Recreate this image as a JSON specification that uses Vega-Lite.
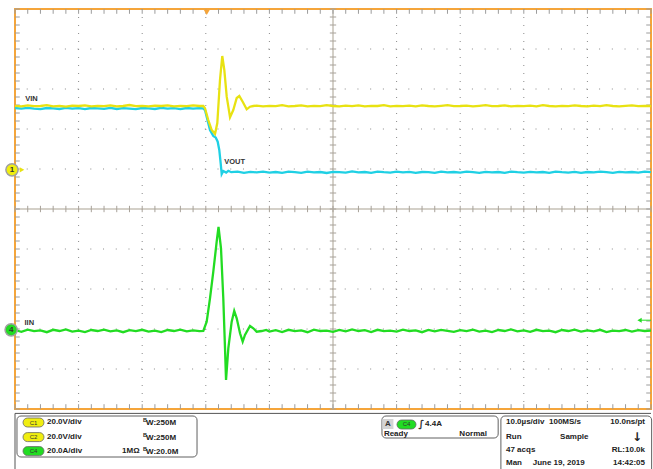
{
  "$schema": "https://vega.github.io/schema/vega-lite/v6.json",
  "width": 636,
  "height": 400,
  "autosize": "none",
  "padding": {"left": 15, "top": 9, "right": 2, "bottom": 60},
  "background": "white",
  "config": {"view": {"stroke": "#f5a53a", "strokeWidth": 2}},
  "resolve": {"scale": {"y": "independent", "color": "independent"}},
  "datasets": {
    "vin": [
      {"t":-30,"v":31.6},{"t":-29,"v":31.3},{"t":-28,"v":31.8},{"t":-27,"v":31.4},{"t":-26,"v":31.5},{"t":-25,"v":31.9},{"t":-24,"v":31.3},{"t":-23,"v":31.6},{"t":-22,"v":31.2},{"t":-21,"v":31.7},
      {"t":-20,"v":31.5},{"t":-19,"v":31.8},{"t":-18,"v":31.3},{"t":-17,"v":31.6},{"t":-16,"v":31.4},{"t":-15,"v":31.8},{"t":-14,"v":31.3},{"t":-13,"v":31.5},{"t":-12,"v":32.0},{"t":-11,"v":31.4},
      {"t":-10,"v":31.6},{"t":-9,"v":31.3},{"t":-8,"v":31.7},{"t":-7,"v":31.5},{"t":-6,"v":31.8},{"t":-5,"v":31.3},{"t":-4,"v":31.6},{"t":-3,"v":31.4},{"t":-2,"v":31.8},{"t":-1,"v":31.5},
      {"t":-0.39,"v":31.5},{"t":-0.13,"v":30.35},{"t":0.39,"v":24.5},{"t":0.93,"v":19.5},{"t":1.45,"v":17.5},{"t":1.81,"v":23},{"t":2.23,"v":44.5},{"t":2.59,"v":56.5},{"t":2.91,"v":49.5},{"t":3.29,"v":36.15},
      {"t":3.81,"v":25.85},{"t":4.32,"v":29.5},{"t":4.86,"v":35.5},{"t":5.27,"v":36.5},{"t":5.8,"v":33.65},{"t":6.43,"v":29.85},{"t":6.95,"v":31.15},{"t":7.47,"v":31.5},
      {"t":8,"v":31.7},{"t":9,"v":31.3},{"t":10,"v":31.6},{"t":11,"v":31.4},{"t":12,"v":31.9},{"t":13,"v":31.3},{"t":14,"v":31.5},{"t":15,"v":31.8},{"t":16,"v":31.3},{"t":17,"v":31.6},
      {"t":18,"v":31.4},{"t":19,"v":31.9},{"t":20,"v":31.5},{"t":21,"v":31.3},{"t":22,"v":31.7},{"t":23,"v":31.4},{"t":24,"v":31.8},{"t":25,"v":31.3},{"t":26,"v":31.6},{"t":27,"v":31.5},
      {"t":28,"v":31.9},{"t":29,"v":31.3},{"t":30,"v":31.6},{"t":31,"v":31.4},{"t":32,"v":31.7},{"t":33,"v":31.3},{"t":34,"v":31.8},{"t":35,"v":31.5},{"t":36,"v":31.3},{"t":37,"v":31.6},
      {"t":38,"v":31.9},{"t":39,"v":31.4},{"t":40,"v":31.5},{"t":41,"v":31.7},{"t":42,"v":31.3},{"t":43,"v":31.6},{"t":44,"v":31.9},{"t":45,"v":31.4},{"t":46,"v":31.5},{"t":47,"v":31.8},
      {"t":48,"v":31.3},{"t":49,"v":31.6},{"t":50,"v":31.4},{"t":51,"v":31.7},{"t":52,"v":31.3},{"t":53,"v":31.9},{"t":54,"v":31.5},{"t":55,"v":31.3},{"t":56,"v":31.6},{"t":57,"v":31.4},
      {"t":58,"v":31.8},{"t":59,"v":31.5},{"t":60,"v":31.3},{"t":61,"v":31.7},{"t":62,"v":31.4},{"t":63,"v":31.9},{"t":64,"v":31.5},{"t":65,"v":31.3},{"t":66,"v":31.6},{"t":67,"v":31.8},
      {"t":68,"v":31.4},{"t":69,"v":31.6},{"t":70,"v":31.5}
    ],
    "vout": [
      {"t":-30,"v":30.5},{"t":-29,"v":30.2},{"t":-28,"v":30.6},{"t":-27,"v":30.2},{"t":-26,"v":29.9},{"t":-25,"v":30.5},{"t":-24,"v":30.3},{"t":-23,"v":30.0},{"t":-22,"v":30.6},{"t":-21,"v":30.2},
      {"t":-20,"v":30.4},{"t":-19,"v":29.9},{"t":-18,"v":30.5},{"t":-17,"v":30.3},{"t":-16,"v":30.1},{"t":-15,"v":30.6},{"t":-14,"v":30.0},{"t":-13,"v":30.4},{"t":-12,"v":30.2},{"t":-11,"v":29.9},
      {"t":-10,"v":30.5},{"t":-9,"v":30.3},{"t":-8,"v":30.0},{"t":-7,"v":30.6},{"t":-6,"v":30.2},{"t":-5,"v":30.4},{"t":-4,"v":29.9},{"t":-3,"v":30.5},{"t":-2,"v":30.2},{"t":-1,"v":30.4},
      {"t":-0.44,"v":30.3},{"t":-0.13,"v":29.5},{"t":0.39,"v":22.85},{"t":0.66,"v":19.5},{"t":1.18,"v":16.5},{"t":1.56,"v":15.75},{"t":1.87,"v":13.65},{"t":2.12,"v":9.5},{"t":2.34,"v":2.85},{"t":2.5,"v":-2.5},
      {"t":2.75,"v":-1.0},{"t":3.2,"v":-1.8},{"t":3.54,"v":-0.9},{"t":4,"v":-1.6},
      {"t":5,"v":-1.3},{"t":6,"v":-1.9},{"t":7,"v":-1.4},{"t":8,"v":-1.7},{"t":9,"v":-1.3},{"t":10,"v":-1.8},{"t":11,"v":-1.5},{"t":12,"v":-1.9},{"t":13,"v":-1.3},{"t":14,"v":-1.6},
      {"t":15,"v":-1.9},{"t":16,"v":-1.3},{"t":17,"v":-1.7},{"t":18,"v":-1.5},{"t":19,"v":-2.0},{"t":20,"v":-1.4},{"t":21,"v":-1.6},{"t":22,"v":-1.8},{"t":23,"v":-1.2},{"t":24,"v":-1.7},
      {"t":25,"v":-1.5},{"t":26,"v":-1.9},{"t":27,"v":-1.3},{"t":28,"v":-1.6},{"t":29,"v":-1.8},{"t":30,"v":-1.3},{"t":31,"v":-1.7},{"t":32,"v":-1.4},{"t":33,"v":-1.9},{"t":34,"v":-1.5},
      {"t":35,"v":-1.6},{"t":36,"v":-1.9},{"t":37,"v":-1.3},{"t":38,"v":-1.7},{"t":39,"v":-1.5},{"t":40,"v":-1.8},{"t":41,"v":-1.3},{"t":42,"v":-1.6},{"t":43,"v":-1.9},{"t":44,"v":-1.4},
      {"t":45,"v":-1.7},{"t":46,"v":-1.5},{"t":47,"v":-1.9},{"t":48,"v":-1.3},{"t":49,"v":-1.6},{"t":50,"v":-1.8},{"t":51,"v":-1.4},{"t":52,"v":-1.7},{"t":53,"v":-1.5},{"t":54,"v":-1.9},
      {"t":55,"v":-1.3},{"t":56,"v":-1.6},{"t":57,"v":-1.8},{"t":58,"v":-1.4},{"t":59,"v":-1.9},{"t":60,"v":-1.5},{"t":61,"v":-1.7},{"t":62,"v":-1.3},{"t":63,"v":-1.6},{"t":64,"v":-1.9},
      {"t":65,"v":-1.4},{"t":66,"v":-1.7},{"t":67,"v":-1.5},{"t":68,"v":-1.8},{"t":69,"v":-1.3},{"t":70,"v":-1.6}
    ],
    "iin": [
      {"t":-30,"v":-0.5},{"t":-29,"v":-1.4},{"t":-28,"v":-0.3},{"t":-27,"v":-1.1},{"t":-26,"v":-0.7},{"t":-25,"v":-1.6},{"t":-24,"v":-0.4},{"t":-23,"v":-1.0},{"t":-22,"v":-0.2},{"t":-21,"v":-1.3},
      {"t":-20,"v":-0.8},{"t":-19,"v":-1.5},{"t":-18,"v":-0.5},{"t":-17,"v":-1.0},{"t":-16,"v":-0.3},{"t":-15,"v":-1.2},{"t":-14,"v":-0.7},{"t":-13,"v":-1.6},{"t":-12,"v":-0.6},{"t":-11,"v":-1.1},
      {"t":-10,"v":-0.4},{"t":-9,"v":-1.3},{"t":-8,"v":-0.8},{"t":-7,"v":-1.5},{"t":-6,"v":-0.5},{"t":-5,"v":-1.0},{"t":-4,"v":-0.3},{"t":-3,"v":-1.2},{"t":-2,"v":-0.7},{"t":-1,"v":-1.1},
      {"t":-0.39,"v":-1.0},{"t":0.14,"v":3.65},{"t":0.66,"v":15.35},{"t":1.18,"v":28.65},{"t":1.71,"v":43.65},{"t":2.0,"v":51},{"t":2.39,"v":40.35},{"t":2.75,"v":15.35},{"t":3.02,"v":-9.65},{"t":3.18,"v":-25.5},
      {"t":3.54,"v":-9.65},{"t":4.07,"v":3.65},{"t":4.47,"v":9},{"t":4.86,"v":5.35},{"t":5.38,"v":-2.15},{"t":5.8,"v":-6.35},{"t":6.16,"v":-3},{"t":6.95,"v":1.5},{"t":7.47,"v":0.35},{"t":8.0,"v":-1.35},
      {"t":8.79,"v":-1.0},{"t":9.5,"v":-0.5},{"t":10,"v":-1.3},{"t":11,"v":-0.6},{"t":12,"v":-1.5},{"t":13,"v":-0.4},{"t":14,"v":-1.1},{"t":15,"v":-0.7},{"t":16,"v":-1.6},{"t":17,"v":-0.3},
      {"t":18,"v":-1.0},{"t":19,"v":-0.8},{"t":20,"v":-1.4},{"t":21,"v":-0.5},{"t":22,"v":-1.2},{"t":23,"v":-0.2},{"t":24,"v":-1.0},{"t":25,"v":-0.6},{"t":26,"v":-1.5},{"t":27,"v":-0.4},
      {"t":28,"v":-1.1},{"t":29,"v":-0.8},{"t":30,"v":-1.3},{"t":31,"v":-0.3},{"t":32,"v":-1.0},{"t":33,"v":-0.7},{"t":34,"v":-1.6},{"t":35,"v":-0.5},{"t":36,"v":-1.2},{"t":37,"v":-0.4},
      {"t":38,"v":-0.9},{"t":39,"v":-1.4},{"t":40,"v":-0.6},{"t":41,"v":-1.1},{"t":42,"v":-0.3},{"t":43,"v":-1.3},{"t":44,"v":-0.8},{"t":45,"v":-1.5},{"t":46,"v":-0.5},{"t":47,"v":-1.0},
      {"t":48,"v":-0.2},{"t":49,"v":-1.2},{"t":50,"v":-0.7},{"t":51,"v":-1.4},{"t":52,"v":-0.4},{"t":53,"v":-1.1},{"t":54,"v":-0.8},{"t":55,"v":-1.6},{"t":56,"v":-0.5},{"t":57,"v":-1.0},
      {"t":58,"v":-0.3},{"t":59,"v":-1.3},{"t":60,"v":-0.7},{"t":61,"v":-1.2},{"t":62,"v":-0.4},{"t":63,"v":-1.5},{"t":64,"v":-0.8},{"t":65,"v":-1.1},{"t":66,"v":-0.5},{"t":67,"v":-1.3},
      {"t":68,"v":-0.6},{"t":69,"v":-1.0},{"t":70,"v":-0.8}
    ],
    "mx": [
      {"t":-30},{"t":-28},{"t":-26},{"t":-24},{"t":-22},{"t":-20},{"t":-18},{"t":-16},{"t":-14},{"t":-12},
      {"t":-10},{"t":-8},{"t":-6},{"t":-4},{"t":-2},{"t":0},{"t":2},{"t":4},{"t":6},{"t":8},
      {"t":10},{"t":12},{"t":14},{"t":16},{"t":18},{"t":20},{"t":22},{"t":24},{"t":26},{"t":28},
      {"t":30},{"t":32},{"t":34},{"t":36},{"t":38},{"t":40},{"t":42},{"t":44},{"t":46},{"t":48},
      {"t":50},{"t":52},{"t":54},{"t":56},{"t":58},{"t":60},{"t":62},{"t":64},{"t":66},{"t":68},{"t":70}
    ],
    "my": [
      {"d":-5},{"d":-4.8},{"d":-4.6},{"d":-4.4},{"d":-4.2},{"d":-4},{"d":-3.8},{"d":-3.6},{"d":-3.4},{"d":-3.2},
      {"d":-3},{"d":-2.8},{"d":-2.6},{"d":-2.4},{"d":-2.2},{"d":-2},{"d":-1.8},{"d":-1.6},{"d":-1.4},{"d":-1.2},
      {"d":-1},{"d":-0.8},{"d":-0.6},{"d":-0.4},{"d":-0.2},{"d":0},{"d":0.2},{"d":0.4},{"d":0.6},{"d":0.8},
      {"d":1},{"d":1.2},{"d":1.4},{"d":1.6},{"d":1.8},{"d":2},{"d":2.2},{"d":2.4},{"d":2.6},{"d":2.8},
      {"d":3},{"d":3.2},{"d":3.4},{"d":3.6},{"d":3.8},{"d":4},{"d":4.2},{"d":4.4},{"d":4.6},{"d":4.8},{"d":5}
    ],
    "gx": [{"t":-20},{"t":-10},{"t":0},{"t":10},{"t":30},{"t":40},{"t":50},{"t":60}],
    "gy": [{"d":-4},{"d":-3},{"d":-2},{"d":-1},{"d":1},{"d":2},{"d":3},{"d":4}],
    "labels": [
      {"s":"VIN","t":-28.4,"d":2.75},
      {"s":"VOUT","t":2.9,"d":1.18},
      {"s":"IIN","t":-28.5,"d":-2.85}
    ],
    "markers": [
      {"n":"1","ch":"C1","t":-30.47,"d":0.98},
      {"n":"4","ch":"C4","t":-30.6,"d":-3.02}
    ],
    "boxes": [
      {"t":-29.69,"t2":-1.38,"d":-5.175,"d2":-6.2},
      {"t":27.7,"t2":45.97,"d":-5.175,"d2":-5.725},
      {"t":46.4,"t2":70.1,"d":-5.175,"d2":-6.8}
    ],
    "badges": [
      {"ch":"C1","t":-28.74,"t2":-25.44,"d":-5.225,"d2":-5.45,"tc":-27.09,"dc":-5.34},
      {"ch":"C2","t":-28.74,"t2":-25.44,"d":-5.59,"d2":-5.815,"tc":-27.09,"dc":-5.7},
      {"ch":"C4","t":-28.74,"t2":-25.44,"d":-5.94,"d2":-6.165,"tc":-27.09,"dc":-6.05},
      {"ch":"C4","t":30.06,"t2":33.05,"d":-5.275,"d2":-5.5,"tc":31.55,"dc":-5.385}
    ],
    "textLeft": [
      {"s":"20.0V/div","t":-24.97,"d":-5.33},
      {"s":"20.0V/div","t":-24.97,"d":-5.7},
      {"s":"20.0A/div","t":-24.97,"d":-6.05},
      {"s":"W:250M","t":-9.4,"d":-5.36},
      {"s":"W:250M","t":-9.4,"d":-5.73},
      {"s":"1MΩ","t":-13.17,"d":-6.05},
      {"s":"W:20.0M","t":-9.4,"d":-6.08},
      {"s":"4.4A","t":34.47,"d":-5.38},
      {"s":"Ready","t":28.0,"d":-5.63},
      {"s":"10.0µs/div","t":47.2,"d":-5.33},
      {"s":"100MS/s","t":53.96,"d":-5.33},
      {"s":"Run","t":47.2,"d":-5.7},
      {"s":"Sample","t":55.7,"d":-5.7},
      {"s":"47 acqs","t":47.2,"d":-6.03},
      {"s":"Man","t":47.2,"d":-6.35},
      {"s":"June 19, 2019","t":51.4,"d":-6.35}
    ],
    "textRight": [
      {"s":"Normal","t":44.2,"d":-5.63},
      {"s":"10.0ns/pt","t":69.06,"d":-5.33},
      {"s":"RL:10.0k","t":69.06,"d":-6.03},
      {"s":"14:42:05","t":69.06,"d":-6.35}
    ],
    "bw": [
      {"s":"B","t":-9.87,"d":-5.28},
      {"s":"B","t":-9.87,"d":-5.65},
      {"s":"B","t":-9.87,"d":-6.0}
    ]
  },
  "layer": [
    {
      "data": {"name": "gy"},
      "mark": {"type": "rule", "color": "#8a8a8a", "strokeWidth": 1, "strokeDash": [1, 11.72]},
      "encoding": {"y": {"field": "d", "type": "quantitative", "scale": {"domain": [-5, 5], "nice": false}, "axis": null}}
    },
    {
      "data": {"name": "gx"},
      "mark": {"type": "rule", "color": "#8a8a8a", "strokeWidth": 1, "strokeDash": [1, 7]},
      "encoding": {"x": {"field": "t", "type": "quantitative", "scale": {"domain": [-30, 70], "nice": false}, "axis": null}}
    },
    {
      "data": {"values": [{}]},
      "mark": {"type": "rule", "color": "#c6c0b6", "strokeWidth": 1.5},
      "encoding": {"y": {"datum": 0, "type": "quantitative", "scale": {"domain": [-5, 5], "nice": false}, "axis": null}}
    },
    {
      "data": {"values": [{}]},
      "mark": {"type": "rule", "color": "#c6c0b6", "strokeWidth": 1.5},
      "encoding": {"x": {"datum": 20, "type": "quantitative", "scale": {"domain": [-30, 70], "nice": false}, "axis": null}}
    },
    {
      "data": {"name": "mx"},
      "mark": {"type": "rule", "color": "#9c9c9c", "strokeWidth": 1},
      "encoding": {
        "x": {"field": "t", "type": "quantitative", "scale": {"domain": [-30, 70], "nice": false}, "axis": null},
        "y": {"datum": 5, "type": "quantitative", "scale": {"domain": [-5, 5], "nice": false}, "axis": null},
        "y2": {"datum": 4.88}
      }
    },
    {
      "data": {"name": "mx"},
      "mark": {"type": "rule", "color": "#9c9c9c", "strokeWidth": 1},
      "encoding": {
        "x": {"field": "t", "type": "quantitative", "scale": {"domain": [-30, 70], "nice": false}, "axis": null},
        "y": {"datum": -5, "type": "quantitative", "scale": {"domain": [-5, 5], "nice": false}, "axis": null},
        "y2": {"datum": -4.88}
      }
    },
    {
      "data": {"name": "mx"},
      "mark": {"type": "rule", "color": "#a8a29a", "strokeWidth": 1},
      "encoding": {
        "x": {"field": "t", "type": "quantitative", "scale": {"domain": [-30, 70], "nice": false}, "axis": null},
        "y": {"datum": 0.08, "type": "quantitative", "scale": {"domain": [-5, 5], "nice": false}, "axis": null},
        "y2": {"datum": -0.08}
      }
    },
    {
      "data": {"name": "my"},
      "mark": {"type": "rule", "color": "#9c9c9c", "strokeWidth": 1},
      "encoding": {
        "y": {"field": "d", "type": "quantitative", "scale": {"domain": [-5, 5], "nice": false}, "axis": null},
        "x": {"datum": -30, "type": "quantitative", "scale": {"domain": [-30, 70], "nice": false}, "axis": null},
        "x2": {"datum": -29.25}
      }
    },
    {
      "data": {"name": "my"},
      "mark": {"type": "rule", "color": "#9c9c9c", "strokeWidth": 1},
      "encoding": {
        "y": {"field": "d", "type": "quantitative", "scale": {"domain": [-5, 5], "nice": false}, "axis": null},
        "x": {"datum": 70, "type": "quantitative", "scale": {"domain": [-30, 70], "nice": false}, "axis": null},
        "x2": {"datum": 69.25}
      }
    },
    {
      "data": {"name": "my"},
      "mark": {"type": "rule", "color": "#a8a29a", "strokeWidth": 1},
      "encoding": {
        "y": {"field": "d", "type": "quantitative", "scale": {"domain": [-5, 5], "nice": false}, "axis": null},
        "x": {"datum": 19.5, "type": "quantitative", "scale": {"domain": [-30, 70], "nice": false}, "axis": null},
        "x2": {"datum": 20.5}
      }
    },
    {
      "data": {"name": "vout"},
      "mark": {"type": "line", "color": "#1fd0e4", "strokeWidth": 2.3, "interpolate": "linear"},
      "encoding": {
        "x": {"field": "t", "type": "quantitative", "scale": {"domain": [-30, 70], "nice": false}, "axis": null},
        "y": {"field": "v", "type": "quantitative", "scale": {"domain": [-120, 80], "nice": false}, "axis": null}
      }
    },
    {
      "data": {"name": "vin"},
      "mark": {"type": "line", "color": "#e8e212", "strokeWidth": 2.3, "interpolate": "linear"},
      "encoding": {
        "x": {"field": "t", "type": "quantitative", "scale": {"domain": [-30, 70], "nice": false}, "axis": null},
        "y": {"field": "v", "type": "quantitative", "scale": {"domain": [-120, 80], "nice": false}, "axis": null}
      }
    },
    {
      "data": {"name": "iin"},
      "mark": {"type": "line", "color": "#22dc22", "strokeWidth": 2.3, "interpolate": "linear"},
      "encoding": {
        "x": {"field": "t", "type": "quantitative", "scale": {"domain": [-30, 70], "nice": false}, "axis": null},
        "y": {"field": "v", "type": "quantitative", "scale": {"domain": [-40, 160], "nice": false}, "axis": null}
      }
    },
    {
      "data": {"name": "labels"},
      "mark": {"type": "text", "align": "left", "baseline": "middle", "font": "Liberation Sans", "fontWeight": "bold", "fontSize": 7.5, "color": "#333333"},
      "encoding": {
        "x": {"field": "t", "type": "quantitative", "scale": {"domain": [-30, 70], "nice": false}, "axis": null},
        "y": {"field": "d", "type": "quantitative", "scale": {"domain": [-5, 5], "nice": false}, "axis": null},
        "text": {"field": "s"}
      }
    },
    {
      "data": {"values": [{}]},
      "mark": {"type": "point", "shape": "triangle-down", "filled": true, "size": 45, "color": "#f5a53a", "opacity": 1},
      "encoding": {
        "x": {"datum": 0.15, "type": "quantitative", "scale": {"domain": [-30, 70], "nice": false}, "axis": null},
        "y": {"datum": 4.92, "type": "quantitative", "scale": {"domain": [-5, 5], "nice": false}, "axis": null}
      }
    },
    {
      "data": {"values": [{}]},
      "mark": {"type": "point", "shape": "triangle-right", "filled": true, "size": 28, "color": "#e8e212", "opacity": 1},
      "encoding": {
        "x": {"datum": -28.9, "type": "quantitative", "scale": {"domain": [-30, 70], "nice": false}, "axis": null},
        "y": {"datum": 0.98, "type": "quantitative", "scale": {"domain": [-5, 5], "nice": false}, "axis": null}
      }
    },
    {
      "data": {"values": [{}]},
      "mark": {"type": "rule", "color": "#22dc22", "strokeWidth": 1},
      "encoding": {
        "x": {"datum": 68.4, "type": "quantitative", "scale": {"domain": [-30, 70], "nice": false}, "axis": null},
        "x2": {"datum": 70},
        "y": {"datum": -2.78, "type": "quantitative", "scale": {"domain": [-5, 5], "nice": false}, "axis": null}
      }
    },
    {
      "data": {"values": [{}]},
      "mark": {"type": "point", "shape": "triangle-left", "filled": true, "size": 25, "color": "#22dc22", "opacity": 1},
      "encoding": {
        "x": {"datum": 68.2, "type": "quantitative", "scale": {"domain": [-30, 70], "nice": false}, "axis": null},
        "y": {"datum": -2.78, "type": "quantitative", "scale": {"domain": [-5, 5], "nice": false}, "axis": null}
      }
    },
    {
      "data": {"name": "markers"},
      "mark": {"type": "point", "shape": "circle", "filled": true, "size": 150, "stroke": "#a0a0a0", "strokeWidth": 1.5, "opacity": 1},
      "encoding": {
        "x": {"field": "t", "type": "quantitative", "scale": {"domain": [-30, 70], "nice": false}, "axis": null},
        "y": {"field": "d", "type": "quantitative", "scale": {"domain": [-5, 5], "nice": false}, "axis": null},
        "fill": {"field": "ch", "type": "nominal", "scale": {"domain": ["C1", "C4"], "range": ["#f0ee10", "#22dc22"]}, "legend": null}
      }
    },
    {
      "data": {"name": "markers"},
      "mark": {"type": "text", "align": "center", "baseline": "middle", "font": "Liberation Sans", "fontWeight": "bold", "fontSize": 8, "color": "#333333"},
      "encoding": {
        "x": {"field": "t", "type": "quantitative", "scale": {"domain": [-30, 70], "nice": false}, "axis": null},
        "y": {"field": "d", "type": "quantitative", "scale": {"domain": [-5, 5], "nice": false}, "axis": null},
        "text": {"field": "n"}
      }
    },
    {
      "data": {"values": [{}]},
      "mark": {"type": "rule", "color": "#555555", "strokeWidth": 1},
      "encoding": {
        "y": {"datum": -5.11, "type": "quantitative", "scale": {"domain": [-5, 5], "nice": false}, "axis": null}
      }
    },
    {
      "data": {"values": [{}]},
      "mark": {"type": "rule", "color": "#555555", "strokeWidth": 1},
      "encoding": {
        "x": {"datum": -30, "type": "quantitative", "scale": {"domain": [-30, 70], "nice": false}, "axis": null},
        "y": {"datum": -5.11, "type": "quantitative", "scale": {"domain": [-5, 5], "nice": false}, "axis": null},
        "y2": {"datum": -6.8}
      }
    },
    {
      "data": {"name": "boxes"},
      "mark": {"type": "rect", "fill": "white", "stroke": "#606060", "strokeWidth": 1, "cornerRadius": 4},
      "encoding": {
        "x": {"field": "t", "type": "quantitative", "scale": {"domain": [-30, 70], "nice": false}, "axis": null},
        "x2": {"field": "t2"},
        "y": {"field": "d", "type": "quantitative", "scale": {"domain": [-5, 5], "nice": false}, "axis": null},
        "y2": {"field": "d2"}
      }
    },
    {
      "data": {"values": [{}]},
      "mark": {"type": "rect", "fill": "#d4d4d4"},
      "encoding": {
        "x": {"datum": 27.75, "type": "quantitative", "scale": {"domain": [-30, 70], "nice": false}, "axis": null},
        "x2": {"datum": 29.5},
        "y": {"datum": -5.25, "type": "quantitative", "scale": {"domain": [-5, 5], "nice": false}, "axis": null},
        "y2": {"datum": -5.5}
      }
    },
    {
      "data": {"name": "badges"},
      "mark": {"type": "rect", "cornerRadius": 4.5, "stroke": "#666666", "strokeWidth": 0.8},
      "encoding": {
        "x": {"field": "t", "type": "quantitative", "scale": {"domain": [-30, 70], "nice": false}, "axis": null},
        "x2": {"field": "t2"},
        "y": {"field": "d", "type": "quantitative", "scale": {"domain": [-5, 5], "nice": false}, "axis": null},
        "y2": {"field": "d2"},
        "fill": {"field": "ch", "type": "nominal", "scale": {"domain": ["C1", "C2", "C4"], "range": ["#d6d000", "#2ec6d0", "#22c822"]}, "legend": null}
      }
    },
    {
      "data": {"name": "badges"},
      "mark": {"type": "text", "align": "center", "baseline": "middle", "font": "Liberation Sans", "fontSize": 6, "color": "#333333"},
      "encoding": {
        "x": {"field": "tc", "type": "quantitative", "scale": {"domain": [-30, 70], "nice": false}, "axis": null},
        "y": {"field": "dc", "type": "quantitative", "scale": {"domain": [-5, 5], "nice": false}, "axis": null},
        "text": {"field": "ch"}
      }
    },
    {
      "data": {"values": [{"s": "A"}]},
      "mark": {"type": "text", "align": "center", "baseline": "middle", "font": "Liberation Sans", "fontWeight": "bold", "fontSize": 8, "color": "#333333"},
      "encoding": {
        "x": {"datum": 28.62, "type": "quantitative", "scale": {"domain": [-30, 70], "nice": false}, "axis": null},
        "y": {"datum": -5.38, "type": "quantitative", "scale": {"domain": [-5, 5], "nice": false}, "axis": null},
        "text": {"field": "s"}
      }
    },
    {
      "data": {"values": [{"s": "∫"}]},
      "mark": {"type": "text", "align": "center", "baseline": "middle", "font": "DejaVu Sans", "fontWeight": "bold", "fontSize": 10, "color": "#333333"},
      "encoding": {
        "x": {"datum": 33.9, "type": "quantitative", "scale": {"domain": [-30, 70], "nice": false}, "axis": null},
        "y": {"datum": -5.37, "type": "quantitative", "scale": {"domain": [-5, 5], "nice": false}, "axis": null},
        "text": {"field": "s"}
      }
    },
    {
      "data": {"values": [{"s": "↓"}]},
      "mark": {"type": "text", "align": "center", "baseline": "middle", "font": "DejaVu Sans", "fontWeight": "bold", "fontSize": 12, "color": "#222222"},
      "encoding": {
        "x": {"datum": 67.8, "type": "quantitative", "scale": {"domain": [-30, 70], "nice": false}, "axis": null},
        "y": {"datum": -5.7, "type": "quantitative", "scale": {"domain": [-5, 5], "nice": false}, "axis": null},
        "text": {"field": "s"}
      }
    },
    {
      "data": {"name": "textLeft"},
      "mark": {"type": "text", "align": "left", "baseline": "middle", "font": "Liberation Sans", "fontWeight": "bold", "fontSize": 8, "color": "#222222"},
      "encoding": {
        "x": {"field": "t", "type": "quantitative", "scale": {"domain": [-30, 70], "nice": false}, "axis": null},
        "y": {"field": "d", "type": "quantitative", "scale": {"domain": [-5, 5], "nice": false}, "axis": null},
        "text": {"field": "s"}
      }
    },
    {
      "data": {"name": "bw"},
      "mark": {"type": "text", "align": "left", "baseline": "middle", "font": "Liberation Sans", "fontWeight": "bold", "fontSize": 5.5, "color": "#222222"},
      "encoding": {
        "x": {"field": "t", "type": "quantitative", "scale": {"domain": [-30, 70], "nice": false}, "axis": null},
        "y": {"field": "d", "type": "quantitative", "scale": {"domain": [-5, 5], "nice": false}, "axis": null},
        "text": {"field": "s"}
      }
    },
    {
      "data": {"name": "textRight"},
      "mark": {"type": "text", "align": "right", "baseline": "middle", "font": "Liberation Sans", "fontWeight": "bold", "fontSize": 8, "color": "#222222"},
      "encoding": {
        "x": {"field": "t", "type": "quantitative", "scale": {"domain": [-30, 70], "nice": false}, "axis": null},
        "y": {"field": "d", "type": "quantitative", "scale": {"domain": [-5, 5], "nice": false}, "axis": null},
        "text": {"field": "s"}
      }
    }
  ]
}
